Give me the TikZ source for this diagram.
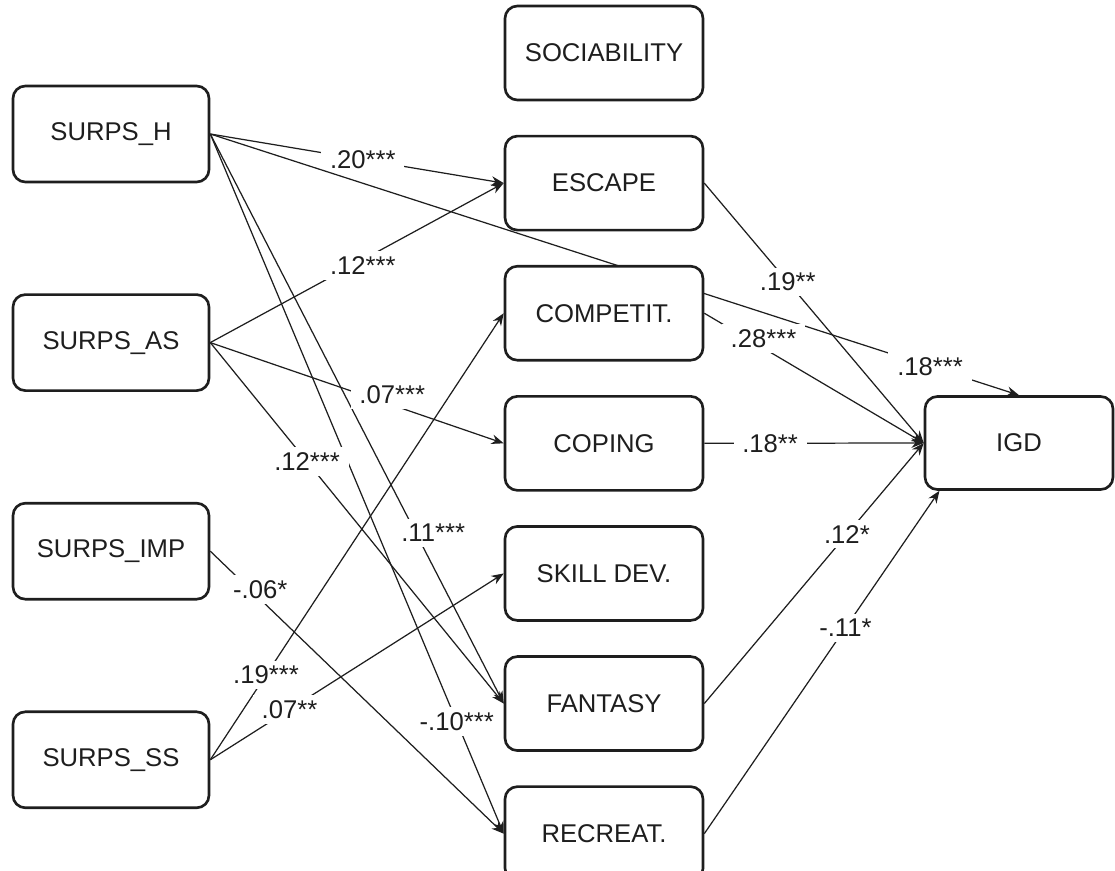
\documentclass[tikz,border=0pt]{standalone}
\usepackage{fontspec}
\setmainfont{Liberation Sans}
\usetikzlibrary{arrows.meta,positioning,backgrounds}
\definecolor{inkdark}{HTML}{1E1E1E}
\tikzset{
  predbox/.style = {rounded corners=7pt, draw=inkdark, line width=1.5pt, fill=white,
                    text=inkdark, align=center, minimum width=3.92cm, minimum height=1.92cm,
                    font=\fontsize{14.6}{17}\selectfont},
  motbox/.style  = {predbox, minimum width=3.96cm, minimum height=1.88cm},
  outbox/.style  = {predbox, minimum width=3.76cm, minimum height=1.86cm},
  effect/.style  = {-{Stealth[length=7pt,width=5.5pt]}, draw=inkdark, line width=0.7pt},
  coef/.style    = {fill=white, text=inkdark, inner xsep=5pt, inner ysep=3pt,
                    font=\fontsize{14.6}{17}\selectfont},
}

\begin{document}
\begin{tikzpicture}[x=0.02cm, y=-0.02cm]
  \useasboundingbox (0,0) rectangle (1115,871);
  % personality predictors
  \node[predbox] (h) at (111,134) {SURPS\_H};
  \node[predbox, below=2.2cm of h] (as) {SURPS\_AS};
  \node[predbox, below=2.2cm of as] (imp) {SURPS\_IMP};
  \node[predbox, below=2.2cm of imp] (ss) {SURPS\_SS};
  % gaming motives
  \node[motbox] (soc) at (604,53) {SOCIABILITY};
  \node[motbox, below=0.67cm of soc] (esc) {ESCAPE};
  \node[motbox, below=0.67cm of esc] (comp) {COMPETIT.};
  \node[motbox, below=0.67cm of comp] (cop) {COPING};
  \node[motbox, below=0.67cm of cop] (skill) {SKILL DEV.};
  \node[motbox, below=0.67cm of skill] (fan) {FANTASY};
  \node[motbox, below=0.67cm of fan] (rec) {RECREAT.};
  % outcome
  \node[outbox] (igd) at (1019,443) {IGD};
  % paths
  \begin{scope}[on background layer]
    \draw[effect] (h.east) -- node[coef,pos=0.52] {.20***} (esc.west);
    \draw[effect] (h.east) -- node[coef,pos=0.89] {.18***} (igd.north);
    \draw[effect] (h.east) -- node[coef,pos=0.70,xshift=0.35cm] {.11***} (fan.west);
    \draw[effect] (h.east) -- node[coef,pos=0.84] {-.10***} (rec.west);
    \draw[effect] (as.east) -- node[coef,pos=0.52,yshift=-0.12cm] {.12***} (esc.west);
    \draw[effect] (as.east) -- node[coef,pos=0.62,yshift=0.2cm] {.07***} (cop.west);
    \draw[effect] (as.east) -- node[coef,pos=0.33] {.12***} (fan.west);
    \draw[effect] (imp.east) -- node[coef,pos=0.17,yshift=0.2cm] {-.06*} (rec.west);
    \draw[effect] (ss.east) -- node[coef,pos=0.19] {.19***} (comp.west);
    \draw[effect] (ss.east) -- node[coef,pos=0.27] {.07**} (skill.west);
    \draw[effect] (esc.east) -- node[coef,pos=0.38] {.19**} (igd.west);
    \draw[effect] (comp.east) -- node[coef,pos=0.27,yshift=0.2cm] {.28***} (igd.west);
    \draw[effect] (cop.east) -- node[coef,pos=0.30] {.18**} (igd.west);
    \draw[effect] (fan.east) -- node[coef,pos=0.65] {.12*} (igd.west);
    \draw[effect] (rec.east) -- node[coef,pos=0.60] {-.11*} (igd.211);
  \end{scope}
\end{tikzpicture}
\end{document}
